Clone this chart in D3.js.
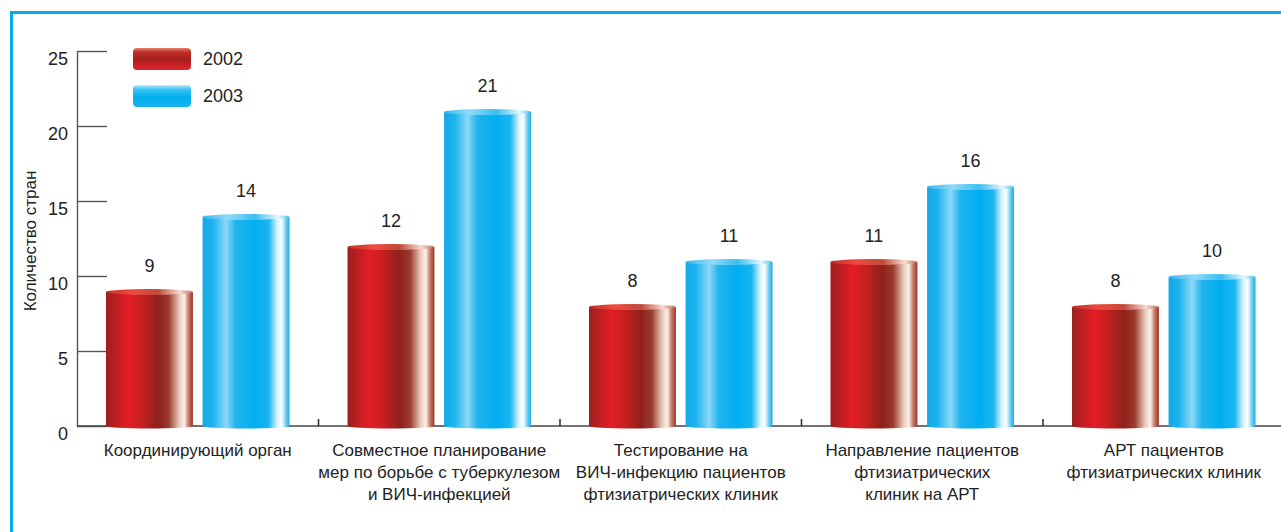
<!DOCTYPE html>
<html><head><meta charset="utf-8">
<script src="https://cdn.jsdelivr.net/npm/d3@7"></script>
<style>
html,body{margin:0;padding:0;background:#fff;}
svg{display:block;}
text{font-family:"Liberation Sans",Arial,sans-serif;fill:#222;}
</style></head>
<body>
<script>
const categories = [
  ["Координирующий орган"],
  ["Совместное планирование","мер по борьбе с туберкулезом","и ВИЧ-инфекцией"],
  ["Тестирование на","ВИЧ-инфекцию пациентов","фтизиатрических клиник"],
  ["Направление пациентов","фтизиатрических","клиник на АРТ"],
  ["АРТ пациентов","фтизиатрических клиник"]
];
const series = ["2002","2003"];
const values2002 = [9,12,8,11,8];
const values2003 = [14,21,11,16,10];
const yTicks = [0,5,10,15,20,25];
const yTitle = "Количество стран";

const W = 1281, H = 532;
const svg = d3.select("body").append("svg").attr("width",W).attr("height",H);
const defs = svg.append("defs");

function hGrad(id, stops){
  const g = defs.append("linearGradient").attr("id",id).attr("x1","0").attr("x2","1").attr("y1","0").attr("y2","0");
  stops.forEach(s=>g.append("stop").attr("offset",s[0]).attr("stop-color",s[1]));
}
function vGrad(id, stops){
  const g = defs.append("linearGradient").attr("id",id).attr("x1","0").attr("x2","0").attr("y1","0").attr("y2","1");
  stops.forEach(s=>g.append("stop").attr("offset",s[0]).attr("stop-color",s[1]));
}
hGrad("g2002",[[0,"#9c1f1c"],[0.1,"#b81f22"],[0.25,"#e41d27"],[0.4,"#c8201f"],[0.6,"#8f211c"],[0.72,"#9a3a2c"],[0.84,"#e9c8b8"],[0.9,"#faf2ec"],[0.95,"#c77a66"],[1,"#9a3522"]]);
hGrad("g2003",[[0,"#14a9e6"],[0.12,"#1db3ee"],[0.27,"#8cd8f7"],[0.38,"#22b4ee"],[0.6,"#00aeef"],[0.76,"#1ab6ef"],[0.86,"#d9f3fd"],[0.91,"#ffffff"],[0.96,"#6ccdf3"],[1,"#16acea"]]);
hGrad("t2002",[[0,"#c0302a"],[0.3,"#f04a40"],[0.6,"#c04a3a"],[0.85,"#f6dcd0"],[1,"#c06a55"]]);
hGrad("t2003",[[0,"#3ab8ee"],[0.3,"#8fdaf8"],[0.6,"#3cbef2"],[0.87,"#e6f7fe"],[1,"#4cc0ef"]]);
vGrad("l2002",[[0,"#e8826e"],[0.18,"#c0322a"],[0.5,"#a81e1e"],[1,"#e2252a"]]);
vGrad("l2003",[[0,"#b8ecfc"],[0.2,"#3cc2f4"],[0.55,"#00aeef"],[1,"#19b5f0"]]);

// frame
svg.append("path").attr("d","M11.5,"+(H+5)+" L11.5,12.5 L"+(W+5)+",12.5")
  .attr("fill","none").attr("stroke","#00aeef").attr("stroke-width",3);

const x0 = 77, yBase = 426, yTop = 51;
const x = d3.scaleBand().domain(d3.range(categories.length)).range([x0, x0+5*241.5]);
const xs = d3.scaleBand().domain(series).range([29, x.bandwidth()-29]).paddingInner(0.1);
const y = d3.scaleLinear().domain([0,25]).range([yBase,yTop]);

// y axis
const yAxis = d3.axisLeft(y).tickValues(yTicks).tickSize(-30).tickSizeOuter(0).tickPadding(9);
const ya = svg.append("g").attr("transform",`translate(${x0},0)`).call(yAxis);
ya.select(".domain").attr("stroke","#555").attr("stroke-width",1.4);
ya.selectAll(".tick line").attr("stroke","#555").attr("stroke-width",1.4);
ya.selectAll(".tick text").attr("font-size",18).attr("fill","#222").attr("dy","0.75em")
  .attr("font-family","'Liberation Sans',Arial,sans-serif");

// y title
svg.append("text").attr("transform",`translate(36,241) rotate(-90)`).attr("text-anchor","middle")
  .attr("font-size",17).text(yTitle);

// baseline
svg.append("line").attr("x1",x0).attr("x2",W).attr("y1",yBase).attr("y2",yBase)
  .attr("stroke","#444").attr("stroke-width",1.4);
// category separators
categories.slice(0,-1).forEach((c,i)=>{
  const xx = x(i)+x.bandwidth();
  svg.append("line").attr("x1",xx).attr("x2",xx).attr("y1",yBase).attr("y2",yBase-7)
    .attr("stroke","#333").attr("stroke-width",1.6);
});

// bars
const data = [];
categories.forEach((c,i)=>{
  data.push({i, s:"2002", v:values2002[i]});
  data.push({i, s:"2003", v:values2003[i]});
});
const bars = svg.append("g").selectAll("g").data(data).join("g")
  .attr("transform",d=>`translate(${x(d.i)+xs(d.s)},0)`);
const bw = xs.bandwidth();
bars.append("ellipse").attr("cx",bw/2).attr("cy",yBase).attr("rx",bw/2).attr("ry",2.5)
  .attr("fill",d=>`url(#g${d.s})`);
bars.append("rect").attr("x",0).attr("width",bw).attr("y",d=>y(d.v)+1).attr("height",d=>yBase-y(d.v)-1)
  .attr("fill",d=>`url(#g${d.s})`);
bars.append("ellipse").attr("cx",bw/2).attr("cy",d=>y(d.v)+1).attr("rx",bw/2).attr("ry",3)
  .attr("fill",d=>`url(#t${d.s})`);
bars.append("text").attr("x",bw/2).attr("y",d=>y(d.v)-19).attr("text-anchor","middle")
  .attr("font-size",18).text(d=>d.v);

// category labels
categories.forEach((lines,i)=>{
  const t = svg.append("text").attr("text-anchor","middle").attr("font-size",17)
    .attr("x",x(i)+x.bandwidth()/2).attr("y",456);
  lines.forEach((l,k)=>t.append("tspan").attr("x",x(i)+x.bandwidth()/2).attr("dy",k?22:0).text(l));
});

// legend
const lg = svg.append("g");
series.forEach((s,k)=>{
  const yy = 48 + k*37;
  lg.append("rect").attr("x",133).attr("y",yy).attr("width",58).attr("height",22).attr("rx",4)
    .attr("fill",`url(#l${s})`);
  lg.append("text").attr("x",203).attr("y",yy+17).attr("font-size",18).text(s);
});
</script>
</body></html>
